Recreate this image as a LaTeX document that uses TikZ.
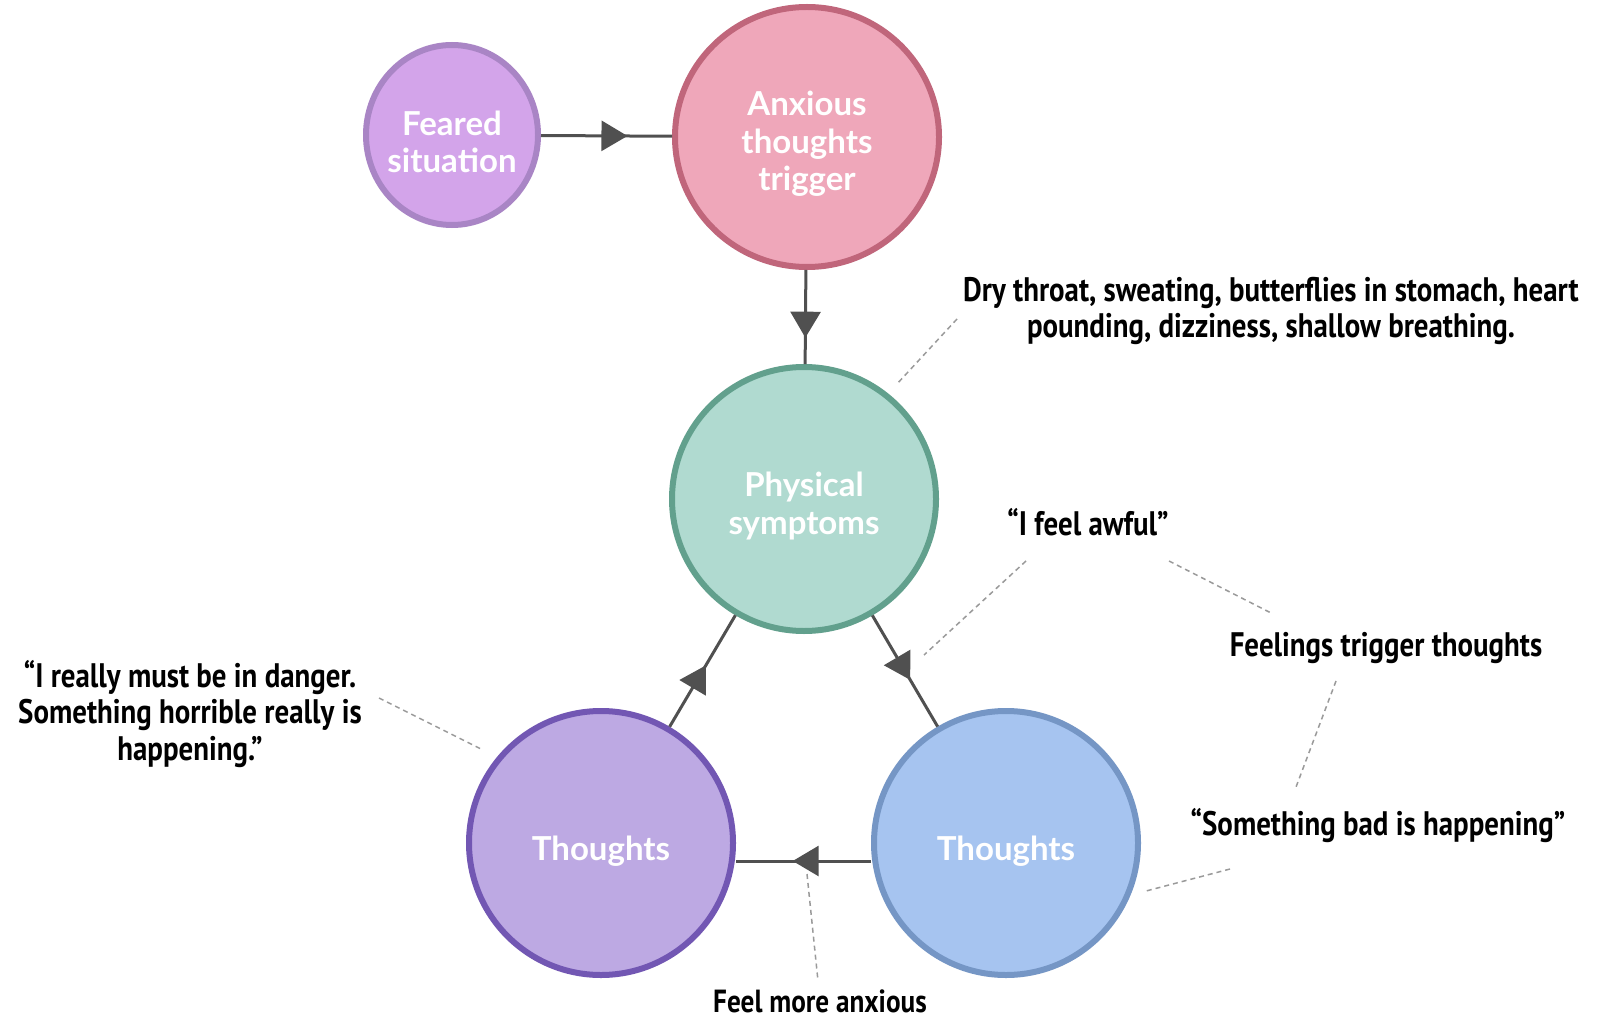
\documentclass[tikz,border=0pt]{standalone}
\usepackage{fontspec}
\usetikzlibrary{arrows.meta,decorations.markings,shapes.geometric}
\newfontfamily\circfont{Lato}
\newfontfamily\handfont[FakeStretch=0.85]{PT Sans}
\definecolor{fearfill}{HTML}{D3A4EA}
\definecolor{fearline}{HTML}{A985C5}
\definecolor{anxfill}{HTML}{EFA7BA}
\definecolor{anxline}{HTML}{C0667B}
\definecolor{physfill}{HTML}{B0DAD0}
\definecolor{physline}{HTML}{62A08D}
\definecolor{tlfill}{HTML}{BDA9E3}
\definecolor{tlline}{HTML}{7257B3}
\definecolor{trfill}{HTML}{A6C4F0}
\definecolor{trline}{HTML}{7596C5}
\definecolor{arrowgray}{HTML}{505050}
\definecolor{dashgray}{HTML}{9A9A9A}
\begin{document}
\begin{tikzpicture}[x=1pt,y=-1pt,
  bubble/.style={ellipse, line width=6pt, inner sep=0pt},
  bubbletext/.style={align=center, inner sep=0pt, text=white,
    font=\circfont\bfseries\fontsize{33}{37.5}\selectfont},
  flow/.style={draw=arrowgray, line width=3pt, postaction={decorate},
    decoration={markings, mark=at position #1 with {\arrow{Triangle[length=26pt,width=30pt]}}}},
  hint/.style={draw=dashgray, line width=1.5pt, dash pattern=on 5pt off 4pt},
  note/.style={align=center, inner sep=0pt, text=black,
    font=\handfont\bfseries\fontsize{34}{36.5}\selectfont}]
\useasboundingbox (0,0) rectangle (1597,1024);
\fill[white] (0,0) rectangle (1597,1024);

% circles
\node[bubble, fill=fearfill, draw=fearline, minimum width=172pt, minimum height=180pt] (feared) at (452,135) {};
\node[bubble, fill=anxfill, draw=anxline, minimum width=264pt, minimum height=260pt] (anx) at (807,137) {};
\node[bubble, fill=physfill, draw=physline, minimum width=264pt, minimum height=264pt] (phys) at (804,499) {};
\node[bubble, fill=tlfill, draw=tlline, minimum width=264pt, minimum height=264pt] (tl) at (601,843) {};
\node[bubble, fill=trfill, draw=trline, minimum width=264pt, minimum height=264pt] (tr) at (1006,843) {};

% circle labels
\node[bubbletext] (feared-t) at ([yshift=-7pt]feared.center) {Feared\\situation};
\node[bubbletext] (anx-t) at ([yshift=-7pt]anx.center) {Anxious\\thoughts\\trigger};
\node[bubbletext] (phys-t) at ([yshift=-7pt]phys.center) {Physical\\symptoms};
\node[bubbletext] (tl-t) at ([yshift=-8pt]tl.center) {Thoughts};
\node[bubbletext] (tr-t) at ([yshift=-8pt]tr.center) {Thoughts};

% connectors
\draw[flow=0.66] (feared) -- (anx);
\draw[flow=0.72] (anx) -- (phys);
\draw[flow=0.55] (tl) -- (phys);
\draw[flow=0.58] (phys) -- (tr);
\draw[flow=0.58] ([yshift=-18pt]tr.west) -- ([yshift=-18pt]tl.east);

% annotations
\node[note] (dry) at (1271,311) {Dry throat, sweating, butterflies in stomach, heart\\pounding, dizziness, shallow breathing.};
\node[note] (awful) at (1088,522) {“I feel awful”};
\node[note] (feel) at (1386,648) {Feelings trigger thoughts};
\node[note] (bad) at (1378,826) {“Something bad is happening”};
\node[note, font=\handfont\bfseries\fontsize{32}{36.5}\selectfont] (more) at (820,1001) {Feel more anxious};
\node[note] (danger) at (190,714) {“I really must be in danger.\\Something horrible really is\\happening.”};

% dashed leaders
\coordinate (d1a) at (957,319); \coordinate (d1b) at (896,385);
\coordinate (d2a) at (1026,561); \coordinate (d2b) at (924,655);
\coordinate (d3a) at (1169,561); \coordinate (d3b) at (1273,614);
\coordinate (d4a) at (1336,681); \coordinate (d4b) at (1296,787);
\coordinate (d5a) at (1230,869); \coordinate (d5b) at (1146,891);
\coordinate (d6a) at (807,874); \coordinate (d6b) at (818,981);
\coordinate (d7a) at (379,698); \coordinate (d7b) at (481,749);
\draw[hint] (d1a) -- (d1b);
\draw[hint] (d2a) -- (d2b);
\draw[hint] (d3a) -- (d3b);
\draw[hint] (d4a) -- (d4b);
\draw[hint] (d5a) -- (d5b);
\draw[hint] (d6a) -- (d6b);
\draw[hint] (d7a) -- (d7b);
\end{tikzpicture}
\end{document}
